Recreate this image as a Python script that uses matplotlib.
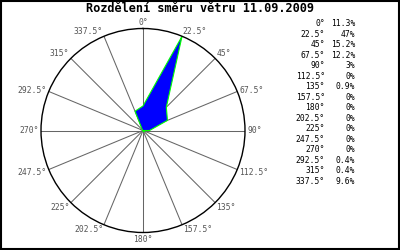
import numpy as np
import matplotlib
matplotlib.use("Agg")
import matplotlib.pyplot as plt

# wind direction (degrees) and share of time (%)
directions = [0, 22.5, 45, 67.5, 90, 112.5, 135, 157.5,
              180, 202.5, 225, 247.5, 270, 292.5, 315, 337.5]
dir_labels = ["0", "22.5", "45", "67.5", "90", "112.5", "135", "157.5",
              "180", "202.5", "225", "247.5", "270", "292.5", "315", "337.5"]
shares = [11.3, 47, 15.2, 12.2, 3, 0, 0.9, 0, 0, 0, 0, 0, 0, 0.4, 0.4, 9.6]
share_labels = ["11.3%", "47%", "15.2%", "12.2%", "3%", "0%", "0.9%", "0%",
                "0%", "0%", "0%", "0%", "0%", "0.4%", "0.4%", "9.6%"]
title = "Rozdělení směru větru 11.09.2009"

plt.rcParams["font.family"] = ["DejaVu Sans Mono"]

fig = plt.figure(figsize=(4, 2.5), dpi=100)
ax = fig.add_axes([0.1025, 0.07, 0.51, 0.816], projection="polar")
ax.set_theta_zero_location("N")
ax.set_theta_direction(-1)

rmax = max(shares)
theta = np.deg2rad(directions)

# spokes
for t in theta:
    ax.plot([t, t], [0, rmax], color="#666666", lw=0.75, zorder=1)

# rose polygon
tt = np.append(theta, theta[0])
rr = np.append(shares, shares[0])
ax.fill(tt, rr, facecolor="#0000ff", edgecolor="#00ff00", lw=0.8, zorder=2)

ax.set_ylim(0, rmax)
ax.grid(False)
ax.set_xticks([])
ax.set_yticks([])
ax.spines["polar"].set_color("black")
ax.spines["polar"].set_linewidth(1.0)

# direction labels anchored at the spoke ends
for t, lab in zip(theta, dir_labels):
    s, c = np.sin(t), np.cos(t)
    ha = "left" if s > 0.1 else ("right" if s < -0.1 else "center")
    va = "bottom" if c > 0.5 else ("top" if c < -0.5 else "center")
    dx = 2 * s if abs(s) > 0.1 else 0
    if abs(s) < 0.1:
        dy = 2 * c
    elif abs(c) < 0.5 and c < -0.1:
        dy = -3
    elif abs(c) < 0.5 and c > 0.1:
        dy = 1
    else:
        dy = 0
    ax.annotate(lab + "°", xy=(t, rmax), xytext=(dx, dy),
                textcoords="offset pixels", ha=ha, va=va, fontsize=5.8,
                color="#555555", annotation_clip=False)

fig.text(0.5, 0.964, title, ha="center", va="center", fontsize=8.6,
         fontweight="bold")

# table on the right
y0, dy = 24, 10.47
for i, (lab, val) in enumerate(zip(dir_labels, share_labels)):
    y = 1 - (y0 + i * dy) / 250
    fig.text(325 / 400, y, lab + "°", ha="right", va="center", fontsize=5.8)
    fig.text(355 / 400, y, val, ha="right", va="center", fontsize=5.8)

# outer frame
fig.patches.append(plt.Rectangle((0.002, 0.003), 0.995, 0.995, transform=fig.transFigure,
                                 fill=False, edgecolor="black", lw=1.5))

fig.savefig("out.png", dpi=100)
